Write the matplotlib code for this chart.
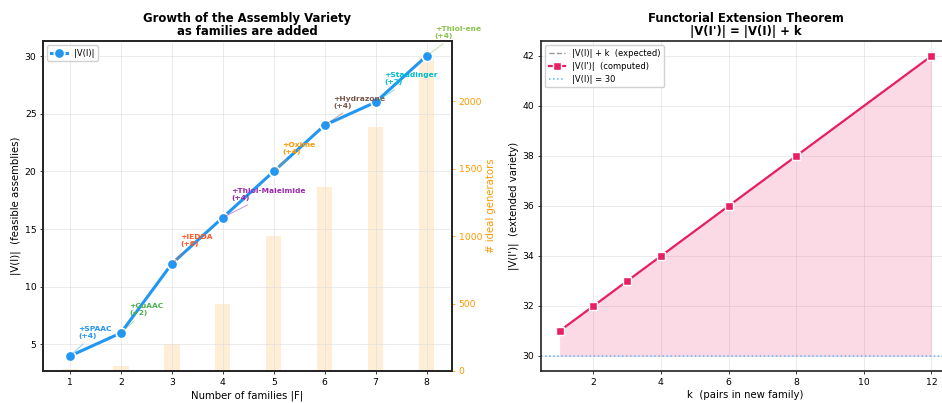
import matplotlib
matplotlib.use("Agg")
import matplotlib.pyplot as plt

# ---- data ----
n_families = [1, 2, 3, 4, 5, 6, 7, 8]
variety = [4, 6, 12, 16, 20, 24, 26, 30]
generators = [16, 40, 200, 500, 1000, 1365, 1810, 2330]
family_names = ["SPAAC", "CuAAC", "IEDDA", "Thiol-Maleimide", "Oxime",
                "Hydrazone", "Staudinger", "Thiol-ene"]
increments = [4, 2, 6, 4, 4, 4, 2, 4]
family_colors = ["#2196F3", "#4CAF50", "#FF5722", "#9C27B0", "#FF9800",
                 "#795548", "#00BCD4", "#8BC34A"]

k_values = [1, 2, 3, 4, 6, 8, 12]
base_variety = 30
extended = [31, 32, 33, 34, 36, 38, 42]
expected = [base_variety + k for k in k_values]

S = 0.67  # scale of points relative to the original rendering
plt.rcParams['font.family'] = ['DejaVu Sans']
plt.rcParams.update({
    'xtick.major.size': 3.5 * S, 'ytick.major.size': 3.5 * S,
    'xtick.major.pad': 3.5 * S, 'ytick.major.pad': 3.5 * S,
    'axes.labelpad': 4 * S, 'axes.titlepad': 6 * S,
    'xtick.major.width': 0.8 * S, 'ytick.major.width': 0.8 * S,
})
fig = plt.figure(figsize=(9.42, 4.03), dpi=100)
W, H = 942, 403

def px_axes(l, t, r, b):
    return fig.add_axes([l / W, 1 - b / H, (r - l) / W, (b - t) / H])

spine_c = "#222222"
TICK = 6.7
LAB = 7.3
TIT = 8.4
LEG = 6.0

# ---- left panel ----
ax = px_axes(43, 41, 452, 371)
ax2 = ax.twinx()
ax.set_zorder(ax2.get_zorder() + 1)
ax.patch.set_visible(False)

ax2.bar(n_families, generators, width=0.3, color="#FF9800", alpha=0.16, zorder=1)
ax2.set_ylim(0, max(generators) * 1.05)
ax2.set_ylabel("# ideal generators", color="#FF9800", fontsize=LAB)
ax2.tick_params(axis='y', colors="#FF9800", labelsize=TICK)
ax2.set_yticks([0, 500, 1000, 1500, 2000])

ax.plot(n_families, variety, '-o', color="#2196F3", lw=2.2, markersize=7.5,
        markeredgecolor='white', markeredgewidth=1.2, label="|V(I)|", zorder=3)
for x, y, name, inc, c in zip(n_families, variety, family_names, increments, family_colors):
    ax.annotate(f"+{name}\n(+{inc})", xy=(x, y), xytext=(6, 12),
                textcoords='offset points', ha='left', va='bottom',
                fontsize=5.4, fontweight='bold', color=c,
                arrowprops=dict(arrowstyle='-', color=c, alpha=0.5, lw=0.7),
                annotation_clip=False, zorder=4)
ax.set_xlim(0.47, 8.5)
ax.set_ylim(2.7, 31.3)
ax.set_xticks(n_families)
ax.set_yticks([5, 10, 15, 20, 25, 30])
ax.grid(True, color="#dddddd", alpha=0.6, lw=0.7)
ax.set_axisbelow(True)
ax.tick_params(labelsize=TICK)
ax.set_xlabel("Number of families |F|", fontsize=LAB)
ax.set_ylabel("|V(I)|  (feasible assemblies)", fontsize=LAB)
ax.set_title("Growth of the Assembly Variety\nas families are added",
             fontsize=TIT, fontweight='bold', linespacing=1.0)
ax.legend(loc='upper left', fontsize=LEG, handlelength=2.0, framealpha=0.9)
for a in (ax, ax2):
    for s in a.spines.values():
        s.set_color(spine_c)
        s.set_linewidth(1.2)

# ---- right panel ----
bx = px_axes(541, 41, 950, 371)
bx.plot(k_values, expected, '--', color="#999999", lw=1.0, label="|V(I)| + k  (expected)", zorder=2)
bx.plot(k_values, extended, '-s', color="#E91E63", lw=1.6, markersize=6,
        markeredgecolor='white', markeredgewidth=1.0, label="|V(I')|  (computed)", zorder=3)
bx.axhline(base_variety, color="#64B5F6", ls=':', lw=1.1, label="|V(I)| = 30", zorder=2)
bx.fill_between(k_values, base_variety, extended, color="#E91E63", alpha=0.16, lw=0, zorder=1)
bx.set_xlim(0.45, 12.55)
bx.set_ylim(29.4, 42.6)
bx.set_xticks([2, 4, 6, 8, 10, 12])
bx.set_yticks([30, 32, 34, 36, 38, 40, 42])
bx.grid(True, color="#dddddd", alpha=0.6, lw=0.7)
bx.set_axisbelow(True)
bx.tick_params(labelsize=TICK)
bx.set_xlabel("k  (pairs in new family)", fontsize=LAB)
bx.set_ylabel("|V(I')|  (extended variety)", fontsize=LAB)
bx.set_title("Functorial Extension Theorem\n|V(I')| = |V(I)| + k",
             fontsize=TIT, fontweight='bold', linespacing=1.0)
bx.legend(loc='upper left', fontsize=LEG, handlelength=2.0, framealpha=0.9)
for s in bx.spines.values():
    s.set_color(spine_c)
    s.set_linewidth(1.2)

fig.savefig("out.png", dpi=100)
